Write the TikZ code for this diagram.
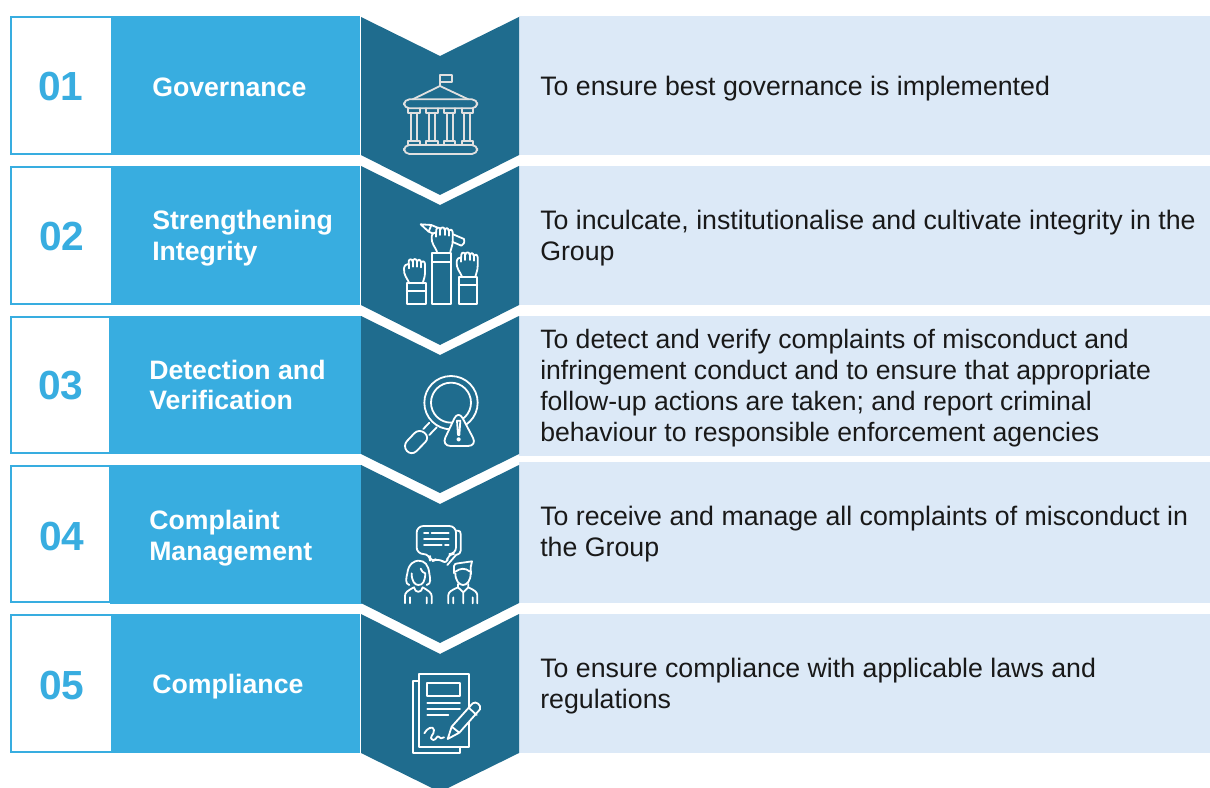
\documentclass[tikz,border=0pt]{standalone}
\usepackage{fontspec}
\setmainfont{Liberation Sans}
\definecolor{cyanblue}{HTML}{38ADE0}
\definecolor{deepblue}{HTML}{1F6C8E}
\definecolor{paleblue}{HTML}{DCE9F7}
\tikzset{
  numbox/.style={draw=cyanblue,line width=1.1pt,fill=white},
  bandfill/.style={fill=cyanblue},
  chevfill/.style={fill=deepblue},
  panelfill/.style={fill=paleblue},
  numtext/.style={text=cyanblue,font=\fontsize{30.5}{36}\selectfont\bfseries,inner sep=0pt},
  labeltext/.style={text=white,anchor=west,align=left,inner sep=0pt,font=\fontsize{20}{23}\selectfont\bfseries},
  desctext/.style={text=black!90,anchor=west,align=left,inner sep=0pt,font=\fontsize{20.05}{23.2}\selectfont},
  iconline/.style={draw=white,line width=1.35pt,line join=round,line cap=round},
  zoomed/.style={shift={#1},x=0.25pt,y=-0.25pt},
}
\newcommand{\fistshape}{%
  \path[iconline,fill=deepblue] (118,250) .. controls (112,235) and (100,225) .. (102,205)
    .. controls (103,195) and (110,192) .. (116,192)
    -- (116,184) .. controls (117,176) and (126,176) .. (128,184)
    .. controls (129,175) and (140,175) .. (141,184)
    .. controls (142,177) and (152,177) .. (153,187)
    .. controls (155,181) and (165,183) .. (165,192)
    -- (165,218) .. controls (165,232) and (160,240) .. (158,250);
  \path[iconline] (128,184) -- (128,200) (141,184) -- (141,200) (153,187) -- (153,202)
    (116,192) -- (116,205);
}
\begin{document}
\begin{tikzpicture}[x=0.75pt,y=-0.75pt]
\useasboundingbox (0,0) rectangle (1210,788);
% panels
\path[panelfill] (519,16) rectangle (1210,155);
\path[panelfill] (519,166) rectangle (1210,305);
\path[panelfill] (519,316) rectangle (1210,456);
\path[panelfill] (519,462) rectangle (1210,603);
\path[panelfill] (519,614) rectangle (1210,753);
% bands
\path[bandfill] (112,16) rectangle (360,155);
\path[bandfill] (112,166) rectangle (360,305);
\path[bandfill] (110,316) rectangle (362,454);
\path[bandfill] (110,465) rectangle (362,604);
\path[bandfill] (112,614) rectangle (360,753);
% number boxes
\path[numbox] (11,17) rectangle (112,154);
\path[numbox] (11,167) rectangle (112,304);
\path[numbox] (11,317) rectangle (110,453);
\path[numbox] (11,466) rectangle (110,602);
\path[numbox] (11,615) rectangle (112,752);
% chevrons
\path[chevfill] (361,17) -- (440,56) -- (519,17) -- (519,155) -- (440,195) -- (361,155) -- cycle;
\path[chevfill] (361,166) -- (440,205) -- (519,166) -- (519,305) -- (440,345) -- (361,305) -- cycle;
\path[chevfill] (361,316) -- (440,355) -- (519,316) -- (519,454) -- (440,493) -- (361,454) -- cycle;
\path[chevfill] (361,465) -- (440,504) -- (519,465) -- (519,603) -- (440,643) -- (361,603) -- cycle;
\path[chevfill] (361,614) -- (440,654) -- (519,614) -- (519,753) -- (448,788) -- (432,788) -- (361,753) -- cycle;
% numbers
\node[numtext] (n1) at (61,87) {01};
\node[numtext] (n2) at (62,237) {02};
\node[numtext] (n3) at (61,386) {03};
\node[numtext] (n4) at (62,536) {04};
\node[numtext] (n5) at (62,685) {05};
% labels
\node[labeltext] (l1) at (152,87) {Governance};
\node[labeltext] (l2) at (152,238) {Strengthening\\Integrity};
\node[labeltext] (l3) at (149,385) {Detection and\\Verification};
\node[labeltext] (l4) at (149,538) {Complaint\\Management};
\node[labeltext] (l5) at (152,687) {Compliance};
% descriptions
\node[desctext] (d1) at (540,89) {To ensure best governance is implemented};
\node[desctext] (d2) at (540,238) {To inculcate, institutionalise and cultivate integrity in the\\Group};
\node[desctext,font=\fontsize{19.95}{23.2}\selectfont] (d3) at (540,388) {To detect and verify complaints of misconduct and\\infringement conduct and to ensure that appropriate\\follow-up actions are taken; and report criminal\\behaviour to responsible enforcement agencies};
\node[desctext] (d4) at (540,534) {To receive and manage all complaints of misconduct in\\the Group};
\node[desctext] (d5) at (540,686) {To ensure compliance with applicable laws and\\regulations};
% icon 1: building (zoom origin 350,0)
\begin{scope}[zoomed={(350,0)}]
\path[iconline,draw=white!88!black] (270,258) -- (270,224) -- (305,224) -- (305,246) -- (270,246);
\path[iconline,draw=white!88!black] (188,298) -- (270,258) -- (355,298);
\path[iconline,draw=white!88!black,rounded corners=4pt] (162,298) rectangle (382,325);
\path[iconline,draw=white!88!black,rounded corners=4pt] (162,435) rectangle (382,462);
\foreach \cx in {192,246,299,352}{
  \path[iconline,draw=white!88!black] (\cx-17,325) -- (\cx-17,338) -- (\cx+17,338) -- (\cx+17,325)
    (\cx-9,338) -- (\cx-9,423) (\cx+9,338) -- (\cx+9,423)
    (\cx-17,435) -- (\cx-17,423) -- (\cx+17,423) -- (\cx+17,435);
}
\end{scope}
% icon 2: raised fists with pencil (zoom origin 370,200)
\begin{scope}[zoomed={(370,200)}]
\path[iconline] (152,73) -- (184,75) -- (282,117) .. controls (285,128) and (280,135) .. (274,137) -- (176,95) -- cycle (176,95) -- (184,75);
\begin{scope}[shift={(83,-95)}]\fistshape\end{scope}
\path[iconline,fill=deepblue] (187,160) rectangle (243,312);
\path[iconline] (187,185) -- (243,185);
\begin{scope}\fistshape\end{scope}
\path[iconline] (110,250) rectangle (167,312) (110,272) -- (167,272);
\begin{scope}[shift={(158,-20)}]\fistshape\end{scope}
\path[iconline] (266,232) rectangle (322,312) (266,255) -- (322,255);
\end{scope}
% icon 3: magnifier and warning (zoom origin 370,360)
\begin{scope}[zoomed={(370,360)}]
\path[iconline] (243,128) circle[radius=80] (243,128) circle[radius=60];
\path[iconline] (160,207) -- (178,188) (178,225) -- (200,202);
\path[iconline,rounded corners=5pt] (147,205) -- (180,232) -- (125,288) -- (97,258) -- cycle;
\path[iconline,fill=deepblue,rounded corners=7pt] (265,150) -- (322,258) -- (214,258) -- cycle;
\path[iconline] (261,182) -- (271,182) -- (268,225) -- (264,225) -- cycle;
\path[iconline] (266,238) circle[radius=4];
\end{scope}
% icon 4: people and speech bubble (zoom origin 370,510)
\begin{scope}[zoomed={(370,510)}]
\path[iconline] (258,62) -- (264,62) .. controls (270,62) and (272,66) .. (272,72) -- (272,122) .. controls (272,128) and (268,132) .. (258,135) -- (232,165);
\path[iconline,rounded corners=5pt,fill=deepblue] (140,48) -- (258,48) -- (258,132) -- (232,132) -- (232,165) -- (205,143) -- (180,158) -- (180,132) -- (140,132) -- cycle;
\path[iconline] (162,70) -- (175,70) (185,70) -- (236,70) (162,88) -- (236,88) (162,106) -- (215,106) (225,106) -- (236,106);
% woman
\path[iconline] (118,225) .. controls (105,222) and (108,205) .. (112,190) .. controls (115,160) and (135,152) .. (145,152) .. controls (165,152) and (175,165) .. (178,190) .. controls (180,205) and (185,222) .. (170,225);
\path[iconline] (125,190) .. controls (125,215) and (135,225) .. (145,225) .. controls (158,225) and (165,215) .. (166,190) .. controls (160,190) and (155,183) .. (152,176);
\path[iconline] (105,280) -- (105,258) .. controls (105,248) and (112,242) .. (132,232) .. controls (135,250) and (155,250) .. (158,232) .. controls (175,242) and (185,248) .. (185,258) -- (185,280) (120,262) -- (120,280) (170,262) -- (170,280);
% man
\path[iconline] (252,190) -- (252,168) .. controls (252,162) and (258,160) .. (264,160) -- (306,154) -- (302,172) -- (303,192) (256,185) .. controls (270,175) and (285,172) .. (300,185);
\path[iconline] (256,190) .. controls (256,212) and (268,225) .. (279,225) .. controls (291,225) and (302,212) .. (302,190);
\path[iconline] (235,280) -- (235,256) .. controls (235,246) and (245,240) .. (264,232) -- (280,247) -- (295,232) .. controls (312,240) and (322,246) .. (322,256) -- (322,280) (250,262) -- (250,280) (308,262) -- (308,280) (280,247) -- (280,280) (264,222) -- (264,232) (295,222) -- (295,232);
\end{scope}
% icon 5: document and pencil (zoom origin 370,660)
\begin{scope}[zoomed={(370,660)}]
\path[iconline] (147,62) -- (128,62) -- (128,280) -- (270,280) -- (270,262);
\path[iconline] (147,43) rectangle (297,262);
\path[iconline] (172,68) rectangle (270,108);
\path[iconline] (172,128) -- (270,128) (172,147) -- (270,147) (172,165) -- (235,165);
\path[iconline] (163,220) .. controls (170,205) and (190,195) .. (192,210) .. controls (194,225) and (172,232) .. (190,240) .. controls (200,240) and (200,225) .. (206,230) .. controls (210,238) and (215,235) .. (222,232);
\path[iconline,fill=deepblue] (233,237) -- (245,200) -- (308,130) .. controls (318,122) and (335,135) .. (330,148) -- (268,218) -- cycle (245,200) -- (268,218) (296,143) -- (320,165);
\end{scope}
\end{tikzpicture}
\end{document}
